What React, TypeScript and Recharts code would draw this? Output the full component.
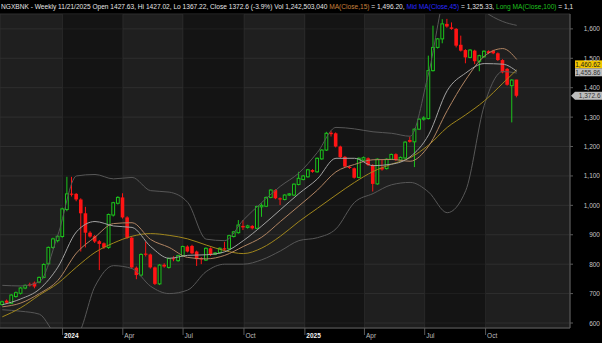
import React from 'react'
import { ComposedChart, Bar, Line, XAxis, YAxis, CartesianGrid, ReferenceArea, ReferenceLine } from 'recharts'

const WEEK = 7 * 24 * 3600 * 1000
const firstWeek = Date.UTC(2023, 9, 2) // Monday of the first weekly candle

// weekly OHLC
const open = [663, 676, 667, 690, 701, 719, 731, 737, 739, 755, 801, 857, 880, 894, 986, 1040, 1039, 1020, 973, 907,
  895, 878, 871, 857, 967, 1007, 1027, 959, 890, 788, 763, 836, 833, 789, 733, 798, 789, 820, 812, 829,
  860, 862, 843, 820, 814, 854, 834, 839, 854, 852, 894, 907, 930, 925, 930, 922, 995, 997, 1027, 1052,
  1024, 1020, 1035, 1035, 1071, 1088, 1097, 1120, 1114, 1158, 1188, 1247, 1245, 1200, 1165, 1131, 1126, 1095, 1154, 1160,
  1137, 1073, 1128, 1125, 1157, 1174, 1154, 1161, 1222, 1216, 1259, 1293, 1295, 1458, 1537, 1566, 1617, 1605, 1600, 1546,
  1528, 1503, 1526, 1490, 1505, 1524, 1526, 1517, 1494, 1464, 1407, 1427.63]
const high = [676, 680, 698, 707, 722, 731, 737, 741, 758, 803, 860, 890, 899, 992, 1097, 1097, 1042, 1024, 995, 912,
  899, 882, 874, 972, 1012, 1031, 1041, 963, 893, 792, 837, 877, 836, 792, 800, 803, 822, 827, 832, 863,
  864, 866, 846, 824, 857, 857, 841, 857, 876, 900, 913, 950, 950, 934, 933, 999, 1007, 1030, 1055, 1055,
  1027, 1038, 1042, 1075, 1114, 1103, 1124, 1123, 1163, 1191, 1250, 1254, 1248, 1203, 1168, 1135, 1129, 1163, 1166, 1163,
  1140, 1160, 1154, 1160, 1176, 1177, 1166, 1218, 1233, 1262, 1296, 1303, 1509, 1611, 1569, 1633, 1634, 1622, 1603, 1577,
  1531, 1531, 1529, 1512, 1527, 1527, 1529, 1520, 1497, 1467, 1429, 1427.02]
const low = [659, 665, 664, 686, 697, 715, 724, 718, 735, 752, 797, 852, 874, 890, 980, 1030, 1014, 843, 857, 890,
  872, 780, 852, 852, 962, 1003, 955, 886, 785, 749, 758, 826, 785, 729, 729, 788, 785, 810, 808, 825,
  840, 834, 794, 800, 811, 828, 831, 836, 846, 849, 891, 904, 916, 921, 918, 919, 961, 994, 1024, 1021,
  1001, 1017, 1032, 1032, 1068, 1085, 1094, 1111, 1111, 1155, 1185, 1234, 1197, 1161, 1129, 1124, 1091, 1092, 1150, 1134,
  1047, 1070, 1118, 1122, 1154, 1151, 1151, 1158, 1213, 1130, 1256, 1288, 1292, 1455, 1533, 1551, 1604, 1597, 1537, 1523,
  1483, 1500, 1480, 1456, 1502, 1515, 1514, 1491, 1449, 1407, 1282, 1367.22]
const close = [672, 669, 695, 703, 719, 728, 728, 724, 755, 799, 857, 886, 895, 988, 1039, 1036, 1020, 973, 907, 894,
  877, 869, 857, 969, 1009, 1027, 959, 890, 789, 763, 833, 832, 789, 733, 797, 792, 819, 817, 829, 860,
  843, 837, 817, 816, 854, 831, 838, 854, 850, 897, 910, 933, 925, 930, 922, 996, 1000, 1027, 1052, 1024,
  1020, 1035, 1039, 1072, 1092, 1100, 1121, 1114, 1160, 1188, 1245, 1242, 1200, 1164, 1132, 1127, 1094, 1160, 1162, 1137,
  1073, 1157, 1122, 1157, 1173, 1154, 1163, 1215, 1216, 1259, 1293, 1297, 1458, 1537, 1566, 1617, 1608, 1600, 1543, 1526,
  1503, 1528, 1490, 1509, 1524, 1518, 1517, 1494, 1452, 1410, 1426, 1372.6]

// indicator lines, read every 4th week
const lineWeeks = [0, 4, 8, 12, 16, 20, 24, 28, 32, 36, 40, 44, 48, 52, 56, 60, 64, 68, 72, 76, 80, 84, 88, 92, 96, 100, 104, 108, 111]
const upperBand = [728, 726, 740, 900, 1100, 1105, 1090, 1095, 1050, 1045, 1010, 885, 880, 950, 1010, 1065, 1110, 1180, 1265, 1260, 1250, 1245, 1235, 1450, 1720, 1720, 1660, 1625, 1612]
const lowerBand = [645, 640, 630, 560, 560, 725, 795, 785, 725, 700, 712, 775, 800, 800, 815, 845, 880, 890, 920, 1010, 1040, 1070, 1078, 1045, 975, 1050, 1340, 1455, 1450]
const fastMa = [662, 682, 715, 790, 910, 945, 930, 925, 860, 820, 830, 832, 842, 880, 930, 985, 1040, 1090, 1160, 1160, 1135, 1140, 1165, 1240, 1390, 1450, 1482, 1480, 1455.86]
const ma15 = [655, 668, 700, 745, 838, 892, 938, 941, 884, 857, 823, 818, 830, 860, 892, 945, 998, 1052, 1114, 1139, 1155, 1156, 1150, 1202, 1322, 1427, 1507, 1533, 1496.2]
const slowMa = [621, 652, 695, 735, 790, 840, 872, 895, 904, 898, 886, 865, 846, 836, 855, 895, 945, 990, 1035, 1078, 1115, 1140, 1162, 1205, 1265, 1308, 1355, 1415, 1460.62]

const yTicks = [600, 700, 800, 900, 1000, 1100, 1200, 1300, 1400, 1500, 1600]
const quarterDates = ['2024-01-01', '2024-04-01', '2024-07-01', '2024-10-01', '2025-01-01', '2025-04-01', '2025-07-01', '2025-10-01']
const quarterLabels = ['2024', 'Apr', 'Jul', 'Oct', '2025', 'Apr', 'Jul', 'Oct']
const darkQuarters = [['2024-01-01', '2024-04-01'], ['2024-07-01', '2024-10-01'], ['2025-01-01', '2025-04-01'], ['2025-07-01', '2025-10-01']]

const priceTags = [
  { value: 1460.62, text: '1,460.62', bg: '#f2c600', fg: '#1a1a1a', dy: -5.5, arrow: false },
  { value: 1455.86, text: '1,455.86', bg: '#bdbdbd', fg: '#333', dy: 1, arrow: false },
  { value: 1372.6, text: '1,372.6', bg: '#bdbdbd', fg: '#333', dy: 0, arrow: true },
]

const FONT = '"Liberation Sans", Arial, sans-serif'
const quarterTimes = quarterDates.map(d => Date.parse(d))

const data = open.map((o, i) => {
  const row: any = { t: firstWeek + i * WEEK, o, h: high[i], l: low[i], c: close[i], range: [low[i], high[i]] }
  const k = lineWeeks.indexOf(i)
  if (k >= 0) {
    row.ub = upperBand[k]
    row.lb = lowerBand[k]
    row.fast = fastMa[k]
    row.ma15 = ma15[k]
    row.slow = slowMa[k]
  }
  return row
})

const Candle = (props: any) => {
  const { x, y, width, height, payload } = props
  if (!payload || height == null) return null
  const { o, h, l, c } = payload
  const top = Math.min(y, y + height)
  const hh = Math.abs(height)
  const px = (v: number) => top + ((h - v) / (h - l)) * hh
  const cx = x + width / 2
  const up = c >= o
  const color = up ? '#1cc41c' : '#ff1414'
  const b1 = px(Math.max(o, c))
  const b2 = px(Math.min(o, c))
  return (
    <g>
      <line x1={cx} x2={cx} y1={top} y2={top + hh} stroke={color} strokeWidth={1} />
      {up
        ? <rect x={cx - 1.4} y={b1} width={2.8} height={Math.max(b2 - b1, 1)} fill="#141414" stroke={color} strokeWidth={1} />
        : <rect x={cx - 1.8} y={b1} width={3.6} height={Math.max(b2 - b1, 1)} fill={color} />}
    </g>
  )
}

const XTick = (props: any) => {
  const { x, y, payload } = props
  const label = quarterLabels[quarterTimes.indexOf(payload.value)]
  const isYear = /^\d{4}$/.test(label)
  return (
    <text x={x + 1.5} y={y} dominantBaseline="central" fontSize={6.5} fontFamily={FONT}
      fontWeight={isYear ? 700 : 400} fill={isYear ? '#f2f2f2' : '#bdbdbd'}>{label}</text>
  )
}

const YTick = (props: any) => {
  const { x, y, payload } = props
  return (
    <text x={x + 27} y={y} textAnchor="end" dominantBaseline="central" fontSize={6.5} fontFamily={FONT} fill="#c4c4c4">
      {Number(payload.value).toLocaleString('en-US')}
    </text>
  )
}

const PriceTag = ({ viewBox, tag }: any) => {
  if (!viewBox) return null
  const x0 = viewBox.x + viewBox.width
  const y = viewBox.y + tag.dy
  return (
    <g>
      {tag.arrow && <path d={`M${x0 + 1},${y} L${x0 + 5},${y - 4} L${x0 + 5},${y + 4} Z`} fill={tag.bg} />}
      <rect x={x0 + 5} y={y - 4} width={27} height={8} fill={tag.bg} />
      <text x={x0 + 30.5} y={y} textAnchor="end" dominantBaseline="central" fontSize={6.5} fontFamily={FONT} fill={tag.fg}>{tag.text}</text>
    </g>
  )
}

export default function App() {
  return (
    <div style={{ position: 'relative', width: 602, height: 343, background: '#000', fontFamily: FONT }}>
      <style>{'body{margin:0;background:#000}'}</style>
      <ComposedChart width={602} height={343} data={data} margin={{ top: 14, right: 0, bottom: 0, left: 0 }}>
        <CartesianGrid fill="#1f1f1f" stroke="#2f2f2f" />
        {darkQuarters.map(([a, b]) => (
          <ReferenceArea key={a} x1={Date.parse(a)} x2={Date.parse(b)} fill="#000" fillOpacity={0.33} stroke="none" ifOverflow="hidden" />
        ))}
        <XAxis dataKey="t" type="number" domain={[firstWeek - WEEK / 2, firstWeek + 122.5 * WEEK]} allowDataOverflow
          ticks={quarterTimes} tick={<XTick />} tickSize={7} tickMargin={0} height={15} interval={0}
          axisLine={{ stroke: '#5a5a5a' }} tickLine={{ stroke: '#5a5a5a' }} />
        <YAxis orientation="right" type="number" domain={[583, 1650.6]} allowDataOverflow ticks={yTicks} interval={0}
          width={32} tickSize={3} tickMargin={0} tick={<YTick />} axisLine={{ stroke: '#5a5a5a' }} tickLine={{ stroke: '#5a5a5a' }} />
        <Line dataKey="ub" stroke="#575757" strokeWidth={1} dot={false} connectNulls type="monotone" isAnimationActive={false} />
        <Line dataKey="lb" stroke="#575757" strokeWidth={1} dot={false} connectNulls type="monotone" isAnimationActive={false} />
        <Line dataKey="slow" stroke="#a0861c" strokeWidth={1} dot={false} connectNulls type="monotone" isAnimationActive={false} />
        <Line dataKey="ma15" stroke="#b08462" strokeWidth={1} dot={false} connectNulls type="monotone" isAnimationActive={false} />
        <Line dataKey="fast" stroke="#a2a2a2" strokeWidth={1} dot={false} connectNulls type="monotone" isAnimationActive={false} />
        <Bar dataKey="range" barSize={4} shape={<Candle />} isAnimationActive={false} />
        {priceTags.map(tag => (
          <ReferenceLine key={tag.text} y={tag.value} stroke="none" label={(p: any) => <PriceTag viewBox={p.viewBox} tag={tag} />} />
        ))}
      </ComposedChart>
      <div style={{ position: 'absolute', left: 1, top: 0, width: 601, height: 14, overflow: 'hidden', whiteSpace: 'nowrap',
        fontSize: '6.6px', lineHeight: '13px', color: '#e4e4e4' }}>
        NGXBNK - Weekly 11/21/2025 Open 1427.63, Hi 1427.02, Lo 1367.22, Close 1372.6 (-3.9%) Vol 1,242,503,040{' '}
        <span style={{ color: '#c8803c' }}>MA(Close,15)</span> = 1,496.20,{' '}
        <span style={{ color: '#2a2aff' }}>Mid MA(Close,45)</span> = 1,325.33,{' '}
        <span style={{ color: '#1fc01f' }}>Long MA(Close,100)</span> = 1,1
      </div>
    </div>
  )
}
